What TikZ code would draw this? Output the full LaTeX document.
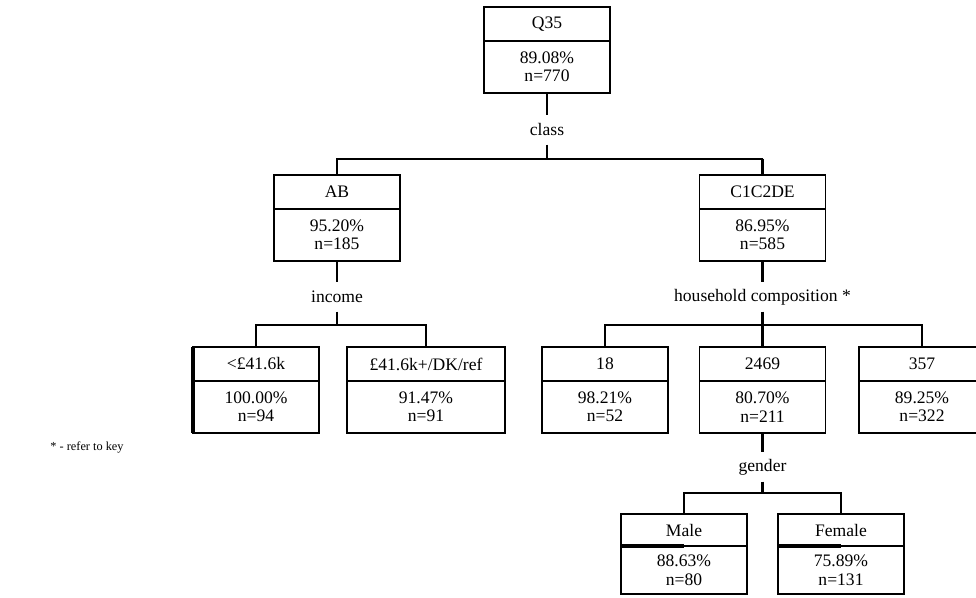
\documentclass[tikz,border=0pt]{standalone}
\usepackage{fontspec}
\setmainfont{Liberation Serif}
\usepackage{tikz}
\usetikzlibrary{positioning}
\tikzstyle{vartitle} = [draw, line width=1.1pt, outer sep=0pt, minimum width=2.52cm, minimum height=0.68cm, inner sep=1pt]
\tikzstyle{varstats} = [draw, line width=1.1pt, outer sep=0pt, minimum width=2.52cm, minimum height=1.04cm, align=center, inner sep=1pt]
\tikzstyle{splitvar} = [inner sep=3pt, minimum height=0.58cm]
\tikzstyle{branch} = [line width=1.1pt]
\tikzstyle{mainbranch} = [line width=2.2pt]

\begin{document}
\begin{tikzpicture}[font=\fontsize{10}{10.5}\selectfont]
\useasboundingbox (0,0) rectangle (19.52,-11.94);

% root
\node (q35) [vartitle] at (10.94,-0.48) {Q35};
\node (q35s) [varstats, below=0pt of q35] {89.08\%\\n=770};
\node (class) [splitvar, below=0.44cm of q35s] {class};
\coordinate (classbar) at ([yshift=-0.28cm]class.south);

% class
\node (ab) [vartitle] at (6.74,-3.84) {AB};
\node (abs) [varstats, below=0pt of ab] {95.20\%\\n=185};
\node (cde) [vartitle] at (15.25,-3.84) {C1C2DE};
\node (cdes) [varstats, below=0pt of cde] {86.95\%\\n=585};

\node (income) [splitvar, below=0.42cm of abs] {income};
\coordinate (incomebar) at ([yshift=-0.26cm]income.south);
\node (household) [splitvar, below=0.42cm of cdes] {household composition *};
\coordinate (householdbar) at ([yshift=-0.26cm]household.south);

% income
\node (lo) [vartitle] at (5.12,-7.28) {<£41.6k};
\node (los) [varstats, below=0pt of lo] {100.00\%\\n=94};
\node (hi) [vartitle, minimum width=3.16cm] at (8.52,-7.28) {£41.6k+/DK/ref};
\node (his) [varstats, minimum width=3.16cm, below=0pt of hi] {91.47\%\\n=91};

% household composition
\node (h18) [vartitle] at (12.10,-7.28) {18};
\node (h18s) [varstats, below=0pt of h18] {98.21\%\\n=52};
\node (h2469) [vartitle] at (15.25,-7.28) {2469};
\node (h2469s) [varstats, below=0pt of h2469] {80.70\%\\n=211};
\node (h357) [vartitle] at (18.44,-7.28) {357};
\node (h357s) [varstats, below=0pt of h357] {89.25\%\\n=322};

\node (gender) [splitvar, below=0.38cm of h2469s] {gender};
\coordinate (genderbar) at ([yshift=-0.22cm]gender.south);

% gender
\node (male) [vartitle, minimum height=0.64cm] at (13.68,-10.60) {Male};
\node (males) [varstats, minimum height=0.96cm, below=0pt of male] {88.63\%\\n=80};
\node (female) [vartitle, minimum height=0.64cm] at (16.82,-10.60) {Female};
\node (females) [varstats, minimum height=0.96cm, below=0pt of female] {75.89\%\\n=131};

\node (key) [font=\fontsize{7}{8}\selectfont] at (1.74,-8.94) {* - refer to key};

\draw [branch] (q35s) -- (class);
\draw [branch] (class) -- (classbar);
\draw [branch] (classbar) -| (ab);
\draw [branch] (classbar) -- (classbar -| cde);
\draw [mainbranch] (classbar -| cde) -- (cde);

\draw [branch] (abs) -- (income);
\draw [branch] (income) -- (incomebar);
\draw [branch] (incomebar) -| (lo);
\draw [branch] (incomebar) -| (hi);

\draw [mainbranch] (cdes) -- (household);
\draw [mainbranch] (household) -- (householdbar);
\draw [branch] (householdbar) -| (h18);
\draw [branch] (householdbar) -| (h357);
\draw [mainbranch] (householdbar) -- (h2469);

\draw [mainbranch] (h2469s) -- (gender);
\draw [mainbranch] (gender) -- (genderbar);
\draw [branch] (genderbar) -| (male);
\draw [branch] (genderbar) -| (female);

\draw [mainbranch] (lo.north west) -- (los.south west);
\draw [mainbranch] (male.south west) -- (male.south);
\draw [mainbranch] (female.south west) -- (female.south);
\end{tikzpicture}
\end{document}
